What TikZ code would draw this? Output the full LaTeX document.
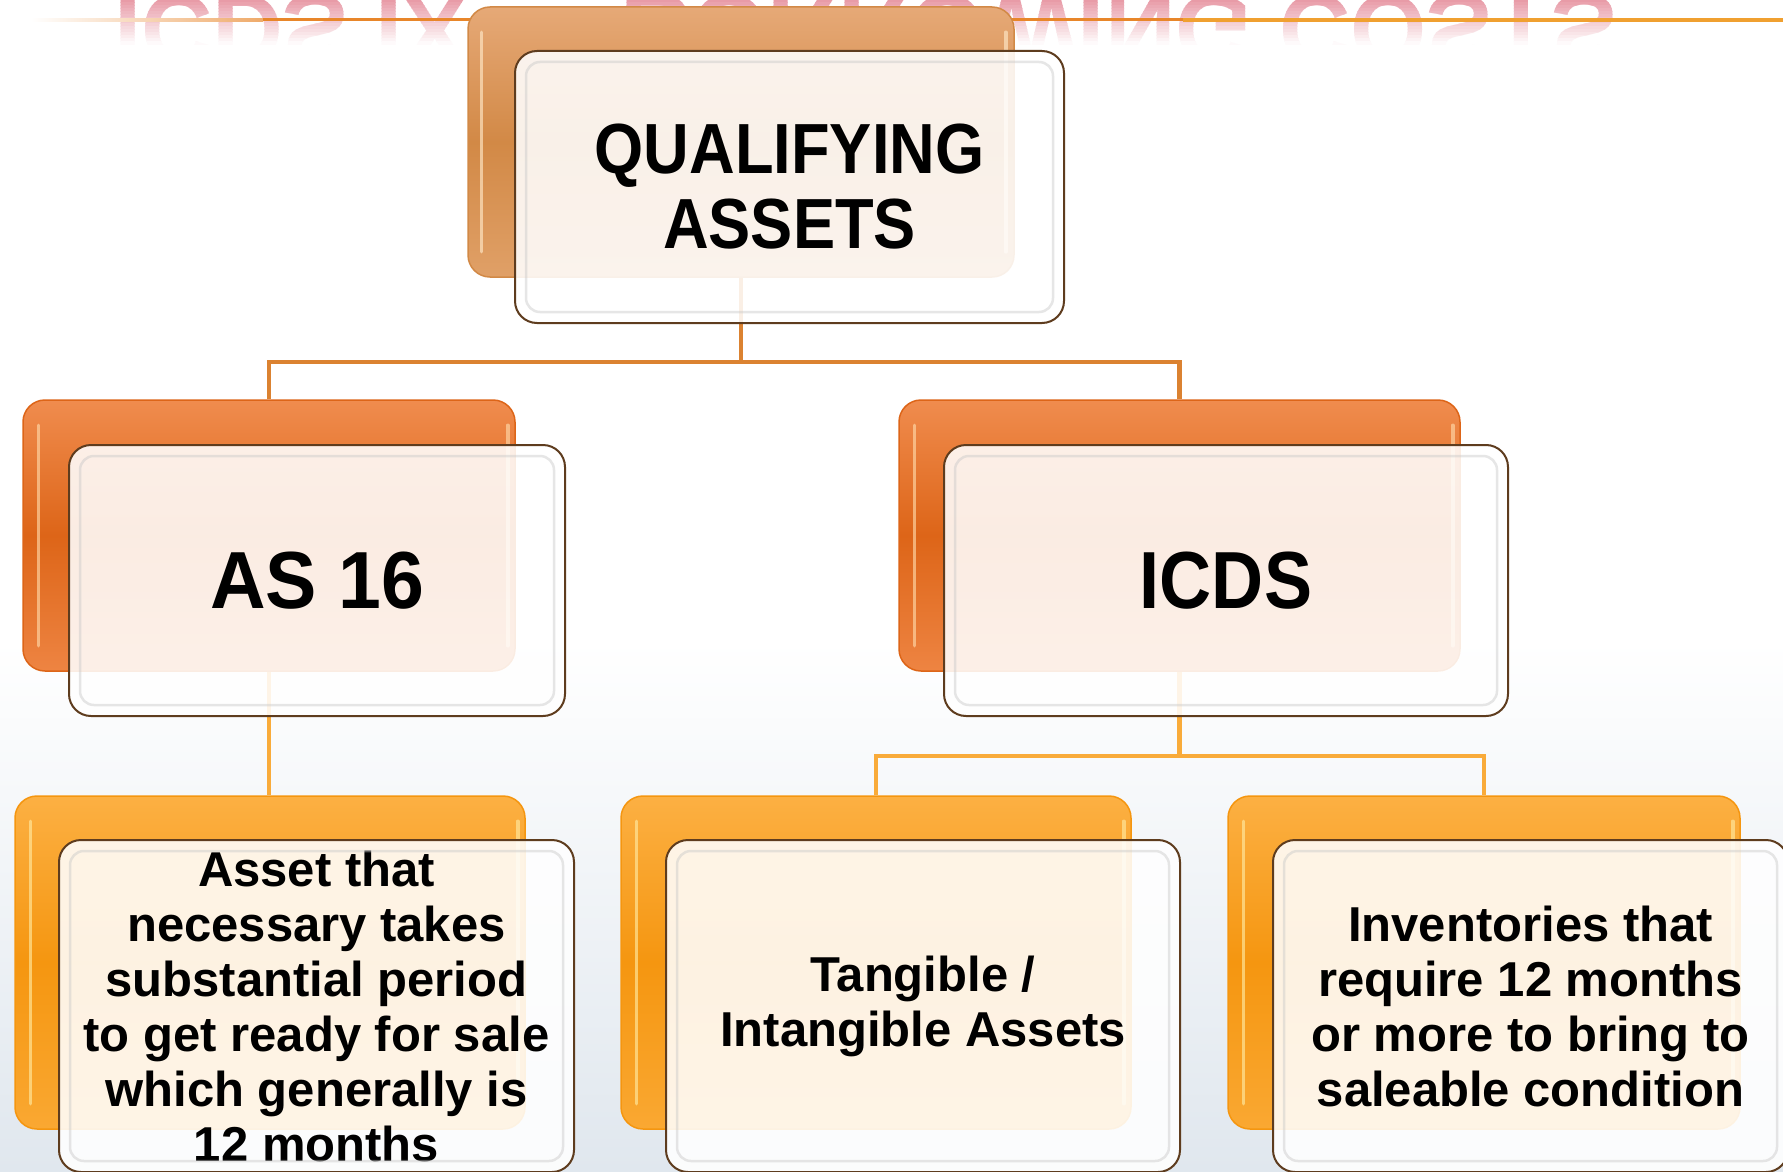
\documentclass[tikz,border=0pt]{standalone}
\usepackage{fontspec}
\setmainfont{Liberation Sans}
\newfontfamily\hfontA{Liberation Sans}[FakeStretch=0.89]
\newfontfamily\hfontB{Liberation Sans}[FakeStretch=0.95]
\pgfdeclarelayer{bg}
\pgfsetlayers{bg,main}
\definecolor{qaT}{HTML}{E6A977}
\definecolor{qaM}{HTML}{D28946}
\definecolor{qaB}{HTML}{E0A067}
\definecolor{mdT}{HTML}{F08C4E}
\definecolor{mdM}{HTML}{DD6518}
\definecolor{mdB}{HTML}{EE8442}
\definecolor{btT}{HTML}{FCB043}
\definecolor{btM}{HTML}{F59610}
\definecolor{btB}{HTML}{FAA832}
\definecolor{frontline}{HTML}{5E3C1E}
\definecolor{glossgrey}{HTML}{C8C8C8}
\definecolor{hlA}{HTML}{FFE8C8}
\definecolor{hlB}{HTML}{FFD8A8}
\definecolor{hlC}{HTML}{FFE9A0}
\definecolor{connA}{HTML}{DB8231}
\definecolor{connB}{HTML}{F9AB3A}
\definecolor{refl}{HTML}{C8102E}
\definecolor{hazeC}{HTML}{E0E7EE}
\definecolor{lineD}{HTML}{E8862A}
\definecolor{lineL}{HTML}{F0A030}
\begin{document}
\begin{tikzpicture}[x=1pt,y=-1pt,
  backbox/.style={rectangle, rounded corners=22pt, inner sep=0pt, line width=1.5pt},
  frontbox/.style={rectangle, rounded corners=22pt, inner sep=0pt, fill=white,
    fill opacity=0.88, text opacity=1, draw=frontline, line width=2pt,
    align=center, text=black},
  qaback/.style={backbox, top color=qaT, bottom color=qaB, middle color=qaM, draw=qaM},
  mdback/.style={backbox, top color=mdT, bottom color=mdB, middle color=mdM, draw=mdM},
  btback/.style={backbox, top color=btT, bottom color=btB, middle color=btM, draw=btM},
  hl/.style={line width=3.5pt, opacity=0.65, line cap=round},
  gloss/.style={rounded corners=14pt, line width=2.5pt, draw=glossgrey, opacity=0.45},
  conna/.style={draw=connA, line width=4.5pt},
  connb/.style={draw=connB, line width=4.5pt},
  titlefont/.style={font=\hfontA\bfseries\fontsize{71}{75}\selectfont},
  midfontA/.style={font=\hfontA\bfseries\fontsize{81}{85}\selectfont},
  midfontB/.style={font=\hfontB\bfseries\fontsize{81}{85}\selectfont},
  bodyfont/.style={font=\bfseries\fontsize{49}{55}\selectfont},
  refltext/.style={anchor=base west, inner sep=0pt, yscale=-1, transform shape,
    font=\bfseries\fontsize{98}{98}\selectfont}
]
\useasboundingbox (0,0) rectangle (1783,1172);

% background
\begin{pgfonlayer}{bg}
  \fill[white] (0,0) rectangle (1783,1172);
  \shade[top color=white, bottom color=hazeC] (0,640) rectangle (1783,1172);
  % faded reflected title
  \foreach \i in {0,...,14}{
    \pgfmathtruncatemacro{\pct}{42*(1-\i/15)}
    \begin{scope}
      \clip (0,\i*3) rectangle (1783,\i*3+3);
      \node[refltext, text=refl!\pct!white] (rt\i) at (114,-4) {ICDS IX — BORROWING COSTS};
    \end{scope}
  }
  % top rule
  \shade[left color=white, right color=lineD!70!white] (31,18.5) rectangle (263,21.5);
  \fill[lineD] (263,18.5) rectangle (1183,21.5);
  \fill[lineL] (1183,18) rectangle (1783,22.5);
\end{pgfonlayer}

% ---- top group
\node[qaback, minimum width=546pt, minimum height=270pt] (qa-b) at (741,142) {};
\draw[hl, draw=hlA] ([shift={(14,26)}]qa-b.north west) -- ([shift={(14,-26)}]qa-b.south west);
\draw[hl, draw=hlA] ([shift={(-9,26)}]qa-b.north east) -- ([shift={(-9,-26)}]qa-b.south east);
\node[frontbox, titlefont, minimum width=549pt, minimum height=272pt] (qa) at (789.5,187) {QUALIFYING\\ASSETS};
\draw[gloss] ([shift={(12,12)}]qa.north west) rectangle ([shift={(-12,-12)}]qa.south east);

% ---- middle groups
\node[mdback, minimum width=492pt, minimum height=271pt] (as-b) at (269,535.5) {};
\draw[hl, draw=hlB] ([shift={(16,26)}]as-b.north west) -- ([shift={(16,-26)}]as-b.south west);
\draw[hl, draw=hlB] ([shift={(-8,26)}]as-b.north east) -- ([shift={(-8,-26)}]as-b.south east);
\node[frontbox, midfontB, minimum width=496pt, minimum height=271pt] (as) at (317,580.5) {AS 16};
\draw[gloss] ([shift={(12,12)}]as.north west) rectangle ([shift={(-12,-12)}]as.south east);

\node[mdback, minimum width=561pt, minimum height=271pt] (ic-b) at (1179.5,535.5) {};
\draw[hl, draw=hlB] ([shift={(16,26)}]ic-b.north west) -- ([shift={(16,-26)}]ic-b.south west);
\draw[hl, draw=hlB] ([shift={(-8,26)}]ic-b.north east) -- ([shift={(-8,-26)}]ic-b.south east);
\node[frontbox, midfontA, minimum width=564pt, minimum height=271pt] (ic) at (1226,580.5) {ICDS};
\draw[gloss] ([shift={(12,12)}]ic.north west) rectangle ([shift={(-12,-12)}]ic.south east);

% ---- bottom groups
\node[btback, minimum width=510pt, minimum height=333pt] (b1-b) at (270,962.5) {};
\draw[hl, draw=hlC] ([shift={(16,26)}]b1-b.north west) -- ([shift={(16,-26)}]b1-b.south west);
\draw[hl, draw=hlC] ([shift={(-8,26)}]b1-b.north east) -- ([shift={(-8,-26)}]b1-b.south east);
\node[frontbox, bodyfont, minimum width=515pt, minimum height=332pt] (b1) at (316.5,1006)
  {Asset that\\necessary takes\\substantial period\\to get ready for sale\\which generally is\\12 months};
\draw[gloss] ([shift={(12,12)}]b1.north west) rectangle ([shift={(-12,-12)}]b1.south east);

\node[btback, minimum width=510pt, minimum height=333pt] (b2-b) at (876,962.5) {};
\draw[hl, draw=hlC] ([shift={(16,26)}]b2-b.north west) -- ([shift={(16,-26)}]b2-b.south west);
\draw[hl, draw=hlC] ([shift={(-8,26)}]b2-b.north east) -- ([shift={(-8,-26)}]b2-b.south east);
\node[frontbox, bodyfont, minimum width=514pt, minimum height=332pt] (b2) at (923,1006)
  {Tangible /\\Intangible Assets};
\draw[gloss] ([shift={(12,12)}]b2.north west) rectangle ([shift={(-12,-12)}]b2.south east);

\node[btback, minimum width=512pt, minimum height=333pt] (b3-b) at (1484,962.5) {};
\draw[hl, draw=hlC] ([shift={(16,26)}]b3-b.north west) -- ([shift={(16,-26)}]b3-b.south west);
\draw[hl, draw=hlC] ([shift={(-8,26)}]b3-b.north east) -- ([shift={(-8,-26)}]b3-b.south east);
\node[frontbox, bodyfont, minimum width=515pt, minimum height=332pt] (b3) at (1530.5,1006)
  {Inventories that\\require 12 months\\or more to bring to\\saleable condition};
\draw[gloss] ([shift={(12,12)}]b3.north west) rectangle ([shift={(-12,-12)}]b3.south east);

% ---- connectors (behind the boxes)
\coordinate (j1) at (741,362);
\coordinate (j2) at (1179.5,756);
\begin{pgfonlayer}{bg}
  \draw[conna] (qa-b.south) -- (j1);
  \draw[conna] (as-b.north) |- (j1) -| (ic-b.north);
  \draw[connb] (as-b.south) -- (as-b.south |- b1-b.north);
  \draw[connb] (ic-b.south) -- (j2);
  \draw[connb] (b2-b.north) |- (j2) -| (b3-b.north);
\end{pgfonlayer}
\end{tikzpicture}
\end{document}
